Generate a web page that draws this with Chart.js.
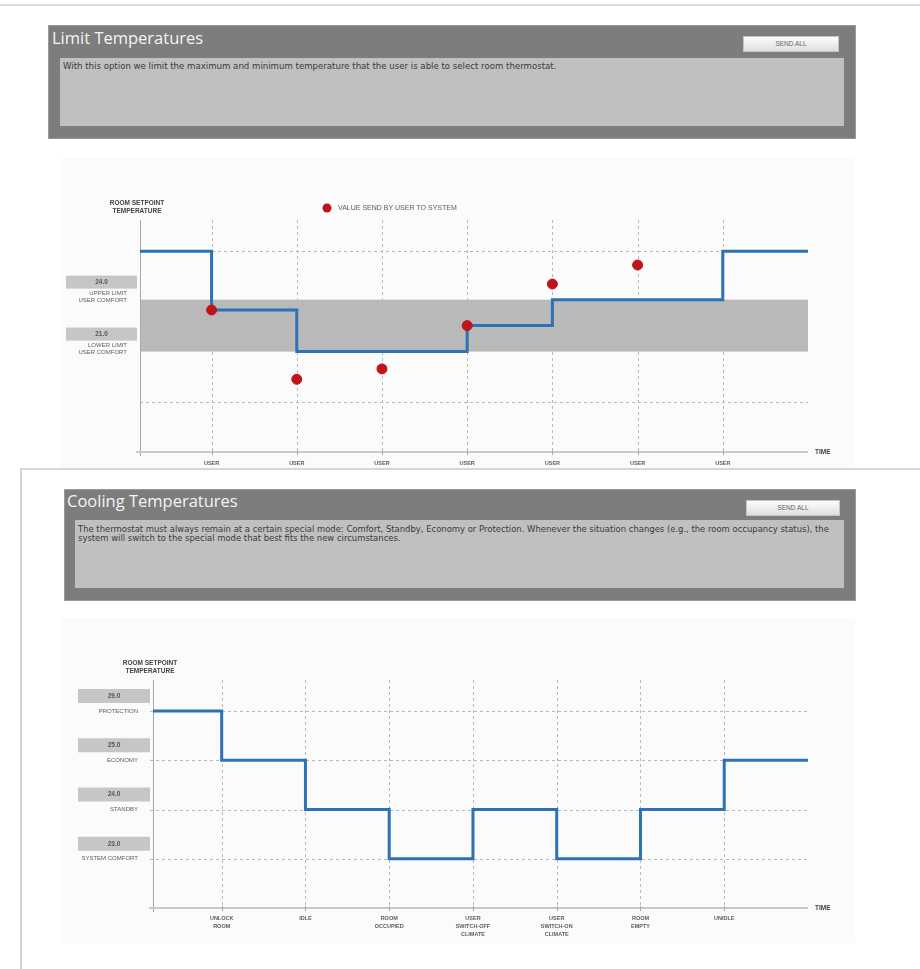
<!DOCTYPE html>
<html>
<head>
<meta charset="utf-8">
<script src="https://cdn.jsdelivr.net/npm/chart.js"></script>
<style>
  html, body { margin: 0; padding: 0; background: #fff; }
  body { width: 920px; height: 969px; position: relative; overflow: hidden; font-family: "Open Sans", "Liberation Sans", sans-serif; }
  .topline { position: absolute; left: 0; top: 4px; width: 920px; height: 2px; background: #dcdcdc; }
  .frame2 { position: absolute; left: 20px; top: 468px; width: 910px; height: 510px; border-top: 2px solid #d6d6d6; border-left: 2px solid #d6d6d6; background: #fff; }
  .panel { position: absolute; background: #7d7d7d; border: 1px solid #9a9a9a; box-sizing: border-box; }
  .panel .title { position: absolute; color: #f4f4f4; font-size: 16.5px; line-height: 18px; font-family: "Open Sans", sans-serif; }
  .panel .btn { position: absolute; width: 96px; height: 16px; background: linear-gradient(#fdfdfd, #dedede); border: 1px solid #c4c4c4; box-sizing: border-box; font-size: 6.5px; line-height: 14px; text-align: center; color: #666; font-family: "Liberation Sans", sans-serif; }
  .panel .inner { position: absolute; background: #c0c0c0; box-sizing: border-box; font-size: 8.6px; line-height: 9px; color: #3a3a3a; padding: 4px 3px; font-family: "DejaVu Sans", sans-serif; white-space: nowrap; overflow: hidden; }
  .chartbg { position: absolute; background: #fbfbfb; }
  canvas { position: absolute; }
</style>
</head>
<body>
<div class="topline"></div>

<div class="panel" style="left:48px;top:25px;width:808px;height:114px;">
  <div class="title" style="left:3px;top:3px;">Limit Temperatures</div>
  <div class="btn" style="left:694px;top:10px;">SEND ALL</div>
  <div class="inner" style="left:11px;top:32px;width:784px;height:68px;">With this option we limit the maximum and minimum temperature that the user is able to select room thermostat.</div>
</div>
<div class="chartbg" style="left:60px;top:158px;width:795px;height:310px;"></div>
<canvas id="chart-limit" width="795" height="310" style="left:60px;top:160px;"></canvas>

<div class="frame2"></div>
<div class="panel" style="left:64px;top:489px;width:792px;height:112px;">
  <div class="title" style="left:2px;top:2px;">Cooling Temperatures</div>
  <div class="btn" style="left:681px;top:10px;width:94px;">SEND ALL</div>
  <div class="inner" style="left:10px;top:30px;width:769px;height:68px;font-size:8.45px;padding-top:5px;">The thermostat must always remain at a certain special mode: Comfort, Standby, Economy or Protection. Whenever the situation changes (e.g., the room occupancy status), the<br>system will switch to the special mode that best fits the new circumstances.</div>
</div>
<div class="chartbg" style="left:60px;top:618px;width:795px;height:325px;"></div>
<canvas id="chart-cooling" width="795" height="325" style="left:60px;top:620px;"></canvas>

<script>
// --- Limit temperatures ---
const limitEvents = ["USER", "USER", "USER", "USER", "USER", "USER", "USER"];
const limitStepX = [0.16, 1, 2, 4, 5, 7, 8];
const limitStepY = [26.8, 23.4, 21.0, 22.5, 24.0, 26.8, 26.8];
const userSentX = [1, 2, 3, 4, 5, 6];
const userSentY = [23.4, 19.4, 20.0, 22.5, 24.9, 26.0];
const limitLevels = [24.0, 21.0];
const limitLevelText = [["UPPER LIMIT", "USER COMFORT"], ["LOWER LIMIT", "USER COMFORT"]];
const limitGuides = [26.8, 18.1];

// --- Cooling temperatures ---
const coolingEvents = [["UNLOCK", "ROOM"], ["IDLE"], ["ROOM", "OCCUPIED"], ["USER", "SWITCH-OFF", "CLIMATE"], ["USER", "SWITCH-ON", "CLIMATE"], ["ROOM", "EMPTY"], ["UNIDLE"]];
const coolingModes = ["PROTECTION", "ECONOMY", "STANDBY", "SYSTEM COMFORT"];
const coolingSetpoints = ["29.0", "25.0", "24.0", "23.0"];
const coolingModeLevel = [4, 3, 2, 1];
const coolingStepX = [0.18, 1, 2, 3, 4, 5, 6, 7, 8];
const coolingStepY = [4, 3, 2, 1, 2, 1, 2, 3, 3];

const LINE_BLUE = "#2d72b4";
const TXT = "#5c5c5c";
const FONT = "'Liberation Sans', Arial, sans-serif";

function dashedLine(ctx, x1, y1, x2, y2) {
    ctx.save();
    ctx.strokeStyle = "#b9b9b9";
    ctx.lineWidth = 1;
    ctx.setLineDash([3, 3]);
    ctx.beginPath();
    ctx.moveTo(x1, y1);
    ctx.lineTo(x2, y2);
    ctx.stroke();
    ctx.restore();
}

function drawAxes(ctx, area, xs) {
    ctx.save();
    ctx.strokeStyle = "#a8a8a8";
    ctx.lineWidth = 1;
    ctx.beginPath();
    ctx.moveTo(area.left + 0.5, area.top);
    ctx.lineTo(area.left + 0.5, area.bottom + 4);
    ctx.stroke();
    ctx.strokeStyle = "#c9c9c9";
    ctx.lineWidth = 2;
    ctx.beginPath();
    ctx.moveTo(area.left - 4, area.bottom);
    ctx.lineTo(area.right, area.bottom);
    ctx.stroke();
    ctx.strokeStyle = "#a8a8a8";
    ctx.lineWidth = 1;
    xs.forEach((x) => {
        ctx.beginPath();
        ctx.moveTo(x + 0.5, area.bottom - 2);
        ctx.lineTo(x + 0.5, area.bottom + 3);
        ctx.stroke();
    });
    ctx.fillStyle = "#444";
    ctx.font = "bold 6.5px " + FONT;
    ctx.textBaseline = "middle";
    ctx.textAlign = "left";
    ctx.fillText("TIME", area.right + 7, area.bottom);
    ctx.restore();
}

function drawYTitle(ctx, cx, y) {
    ctx.save();
    ctx.fillStyle = "#444";
    ctx.font = "bold 6.5px " + FONT;
    ctx.textAlign = "center";
    ctx.textBaseline = "middle";
    ctx.fillText("ROOM SETPOINT", cx, y);
    ctx.fillText("TEMPERATURE", cx, y + 8);
    ctx.restore();
}

function levelBox(ctx, left, width, top, height, text) {
    ctx.save();
    ctx.fillStyle = "#c6c6c6";
    ctx.fillRect(left, top, width, height);
    ctx.fillStyle = "#555";
    ctx.font = "bold 6.5px " + FONT;
    ctx.textAlign = "center";
    ctx.textBaseline = "middle";
    ctx.fillText(text, left + width / 2, top + height / 2);
    ctx.restore();
}

const limitPlugin = {
    id: "limitDecor",
    beforeDatasetsDraw(chart) {
        const { ctx, chartArea: a, scales: { x, y } } = chart;
        // comfort band between the two limits
        const yUp = y.getPixelForValue(limitLevels[0]);
        const yLo = y.getPixelForValue(limitLevels[1]);
        ctx.save();
        ctx.fillStyle = "#b9b9b9";
        ctx.fillRect(a.left, yUp, a.right - a.left, yLo - yUp);
        ctx.restore();
        const xs = limitEvents.map((_, i) => Math.round(x.getPixelForValue(i + 1)));
        xs.forEach((px) => dashedLine(ctx, px + 0.5, a.top, px + 0.5, a.bottom));
        limitGuides.forEach((v) => {
            const py = Math.round(y.getPixelForValue(v)) + 0.5;
            dashedLine(ctx, a.left, py, a.right, py);
        });
        drawAxes(ctx, a, xs);
    },
    afterDatasetsDraw(chart) {
        const { ctx, chartArea: a, scales: { x, y } } = chart;
        ctx.save();
        ctx.fillStyle = TXT;
        ctx.font = "bold 5.5px " + FONT;
        ctx.textAlign = "center";
        ctx.textBaseline = "middle";
        limitEvents.forEach((lbl, i) => {
            ctx.fillText(lbl, x.getPixelForValue(i + 1), a.bottom + 11);
        });
        limitLevels.forEach((v, i) => {
            const py = y.getPixelForValue(v);
            levelBox(ctx, 6, 71, py - 24, 13, v.toFixed(1));
            ctx.fillStyle = TXT;
            ctx.font = "6px " + FONT;
            ctx.textAlign = "right";
            ctx.fillText(limitLevelText[i][0], 67, py - 6);
            ctx.fillText(limitLevelText[i][1], 67, py + 1);
        });
        // legend
        ctx.fillStyle = "#c0141c";
        ctx.beginPath();
        ctx.arc(267, 48, 4.5, 0, Math.PI * 2);
        ctx.fill();
        ctx.fillStyle = TXT;
        ctx.font = "7px " + FONT;
        ctx.textAlign = "left";
        ctx.fillText("VALUE SEND BY USER TO SYSTEM", 278, 48);
        ctx.restore();
        drawYTitle(ctx, 77, 43);
    },
};

const coolingPlugin = {
    id: "coolingDecor",
    beforeDatasetsDraw(chart) {
        const { ctx, chartArea: a, scales: { x, y } } = chart;
        const xs = coolingEvents.map((_, i) => Math.round(x.getPixelForValue(i + 1)));
        xs.forEach((px) => dashedLine(ctx, px + 0.5, a.top, px + 0.5, a.bottom));
        coolingModeLevel.forEach((v) => {
            const py = Math.round(y.getPixelForValue(v)) + 0.5;
            dashedLine(ctx, a.left - 3, py, a.right, py);
        });
        drawAxes(ctx, a, xs);
    },
    afterDatasetsDraw(chart) {
        const { ctx, chartArea: a, scales: { x, y } } = chart;
        ctx.save();
        ctx.fillStyle = TXT;
        ctx.font = "bold 5.5px " + FONT;
        ctx.textAlign = "center";
        ctx.textBaseline = "middle";
        coolingEvents.forEach((lines, i) => {
            lines.forEach((t, j) => {
                ctx.fillText(t, x.getPixelForValue(i + 1), a.bottom + 10 + j * 8);
            });
        });
        coolingModeLevel.forEach((v, i) => {
            const py = y.getPixelForValue(v);
            levelBox(ctx, 18, 72, py - 22, 14, coolingSetpoints[i]);
            ctx.fillStyle = TXT;
            ctx.font = "6px " + FONT;
            ctx.textAlign = "right";
            ctx.fillText(coolingModes[i], 78, py);
        });
        ctx.restore();
        drawYTitle(ctx, 90, 43);
    },
};

function stepDataset(xs, ys) {
    return {
        type: "line",
        data: xs.map((v, i) => ({ x: v, y: ys[i] })),
        stepped: true,
        borderColor: LINE_BLUE,
        borderWidth: 3,
        pointRadius: 0,
        fill: false,
        order: 2,
    };
}

function baseOptions(xMin, xMax, yMin, yMax, padding) {
    return {
        responsive: false,
        animation: false,
        devicePixelRatio: 1,
        layout: { padding: padding },
        plugins: { legend: { display: false }, tooltip: { enabled: false } },
        scales: {
            x: { type: "linear", min: xMin, max: xMax, display: false },
            y: { type: "linear", min: yMin, max: yMax, display: false },
        },
    };
}

new Chart(document.getElementById("chart-limit"), {
    type: "line",
    data: {
        datasets: [
            stepDataset(limitStepX, limitStepY),
            {
                type: "scatter",
                label: "VALUE SEND BY USER TO SYSTEM",
                data: userSentX.map((v, i) => ({ x: v, y: userSentY[i] })),
                backgroundColor: "#c0141c",
                borderColor: "#c0141c",
                pointRadius: 5,
                order: 1,
            },
        ],
    },
    options: baseOptions(0.16, 8, 15.2, 28.6, { left: 80, right: 47, top: 60, bottom: 18 }),
    plugins: [limitPlugin],
});

new Chart(document.getElementById("chart-cooling"), {
    type: "line",
    data: { datasets: [stepDataset(coolingStepX, coolingStepY)] },
    options: baseOptions(0.18, 8, 0, 4.63, { left: 93, right: 47, top: 60, bottom: 37 }),
    plugins: [coolingPlugin],
});
</script>
</body>
</html>
